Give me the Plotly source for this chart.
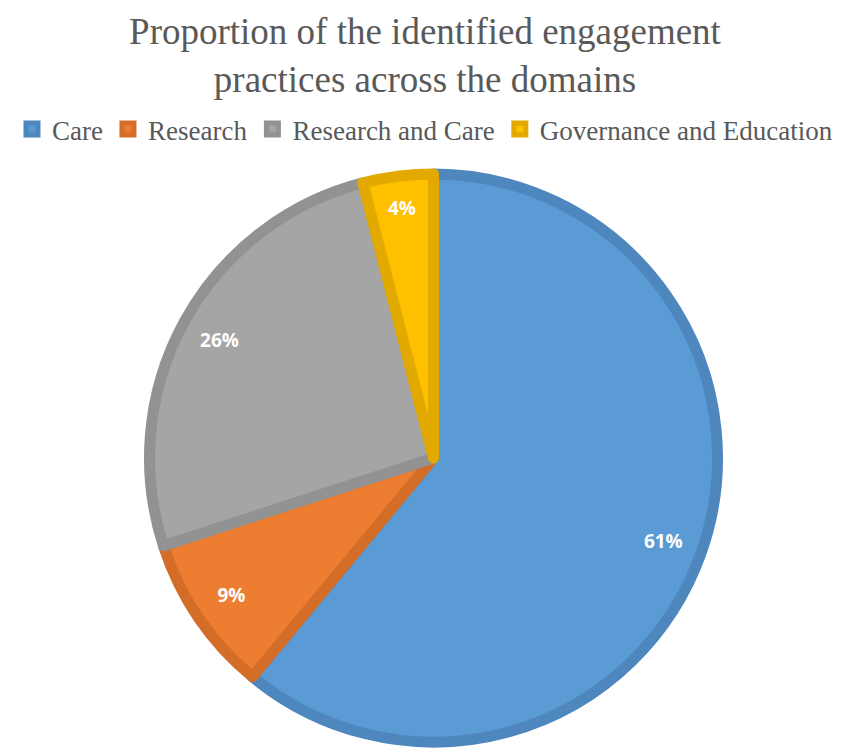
import plotly.graph_objects as go

domains = ['Care', 'Research', 'Research and Care', 'Governance and Education']
shares = [61, 9, 26, 4]
labels = ['61%', '9%', '26%', '4%']

fill_colors = ['#5B9BD5', '#ED7D31', '#A5A5A5', '#FFC000']
edge_colors = ['#4E87BE', '#D46D28', '#929292', '#E2AA00']

fig = go.Figure()

# slices
fig.add_trace(go.Pie(
    labels=domains, values=shares, sort=False, direction='clockwise', rotation=0,
    marker=dict(colors=fill_colors, line=dict(color=edge_colors, width=11)),
    textinfo='none', hoverinfo='label+percent', showlegend=True,
))

# transparent ring carrying the labels near the outer edge
fig.add_trace(go.Pie(
    labels=domains, values=shares, sort=False, direction='clockwise', rotation=0,
    hole=0.72, text=labels, textinfo='text', textposition='inside',
    insidetextorientation='horizontal',
    marker=dict(colors=['rgba(0,0,0,0)'] * 4, line=dict(width=0)),
    textfont=dict(family='Open Sans', size=19, color='white', weight='bold'),
    hoverinfo='skip', showlegend=False,
))

fig.update_layout(
    width=851, height=755,
    paper_bgcolor='white', plot_bgcolor='white',
    margin=dict(l=0, r=0, t=166, b=21),
    title=dict(
        text='Proportion of the identified engagement<br>practices across the domains',
        x=0.49, xanchor='center', y=0.952, yanchor='middle', yref='container',
        font=dict(family='Liberation Serif', size=37, color='#595959'),
    ),
    legend=dict(
        orientation='h', x=0.49, xanchor='center', y=0.839, yanchor='middle',
        yref='container',
        font=dict(family='Liberation Serif', size=27, color='#595959'),
        itemwidth=30, traceorder='normal',
    ),
)

fig.write_html('out.html')
